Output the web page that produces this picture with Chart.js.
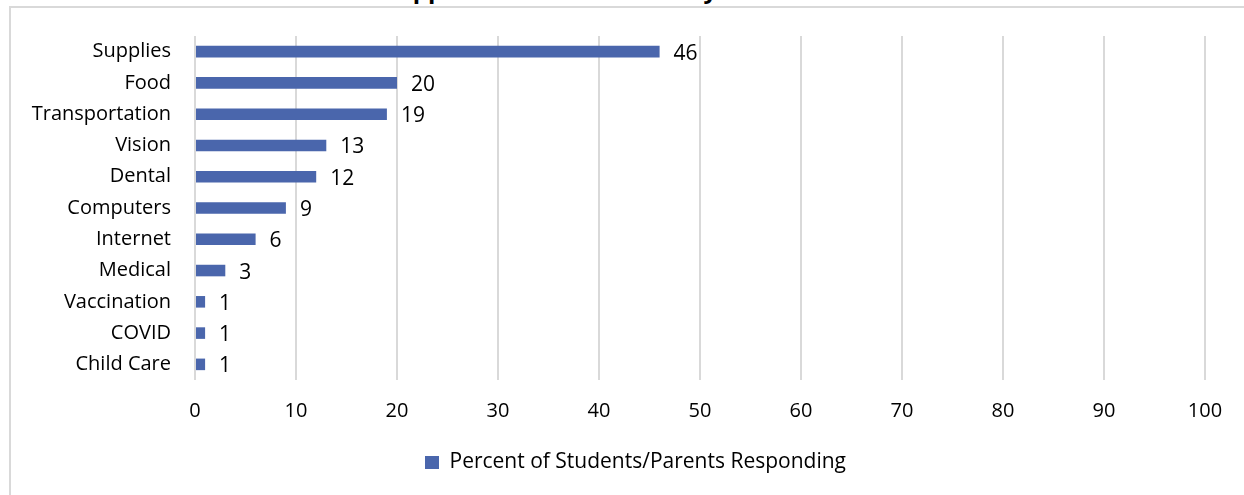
<!DOCTYPE html>
<html>
<head>
<meta charset="utf-8">
<script src="https://cdn.jsdelivr.net/npm/chart.js@4.4.1/dist/chart.umd.min.js"></script>
<style>
  html, body { margin: 0; padding: 0; background: #fff; }
  #wrap { position: relative; width: 1244px; height: 495px; overflow: hidden; background: #fff; }
  #frame { position: absolute; left: 9px; top: 6px; width: 1260px; height: 520px;
           border: 2px solid #D9D9D9; box-sizing: border-box; }
  #title { position: absolute; left: -15px; width: 1244px; top: -26px; text-align: center;
           font: bold 24px "Open Sans", sans-serif; color: #000; line-height: 30px; }
  #chart { position: absolute; left: 0; top: 0; }
</style>
</head>
<body>
<div id="wrap">
  <div id="frame"></div>
  <div id="title">Support Services Needed by Students</div>
  <canvas id="chart" width="1244" height="495"></canvas>
</div>
<script>
const categories = ['Supplies', 'Food', 'Transportation', 'Vision', 'Dental', 'Computers',
                    'Internet', 'Medical', 'Vaccination', 'COVID', 'Child Care'];
const percentResponding = [46, 20, 19, 13, 12, 9, 6, 3, 1, 1, 1];
const seriesName = 'Percent of Students/Parents Responding';
const xTicks = [0, 10, 20, 30, 40, 50, 60, 70, 80, 90, 100];

const FONT = '"Open Sans", sans-serif';
const BAR = '#4A66AC';

// value labels just past the end of each bar
const valueLabels = {
  id: 'valueLabels',
  afterDatasetsDraw(chart) {
    const ctx = chart.ctx;
    const meta = chart.getDatasetMeta(0);
    ctx.save();
    ctx.font = '21px ' + FONT;
    ctx.fillStyle = '#000';
    ctx.textAlign = 'left';
    ctx.textBaseline = 'middle';
    meta.data.forEach((bar, i) => {
      ctx.fillText(String(chart.data.datasets[0].data[i]), bar.x + 14, bar.y + 2);
    });
    ctx.restore();
  }
};

// centre the legend under the whole frame rather than the padded area
const legendShift = {
  id: 'legendShift',
  afterLayout(chart) {
    if (chart.legend) {
      chart.legend.left += 33;
      chart.legend.right += 33;
    }
  }
};

new Chart(document.getElementById('chart'), {
  type: 'bar',
  data: {
    labels: categories,
    datasets: [{
      label: seriesName,
      data: percentResponding,
      backgroundColor: BAR,
      borderWidth: 0,
      categoryPercentage: 1,
      barPercentage: 0.37
    }]
  },
  options: {
    indexAxis: 'y',
    responsive: false,
    animation: false,
    layout: { padding: { left: 0, right: 39, top: 36, bottom: 12 } },
    scales: {
      x: {
        min: 0, max: 100,
        afterBuildTicks(s) { s.ticks = xTicks.map(v => ({ value: v })); },
        grid: { color: '#D9D9D9', lineWidth: 2, drawTicks: false },
        border: { display: false },
        ticks: { font: { size: 20, family: FONT }, color: '#000', padding: 19, maxRotation: 0 },
        afterFit(s) { s.height = 64; }
      },
      y: {
        grid: { display: false },
        border: { display: false },
        ticks: { font: { size: 20, family: FONT }, color: '#000', padding: 16, autoSkip: false },
        afterFit(s) { s.width = 195; }
      }
    },
    plugins: {
      legend: {
        position: 'bottom',
        labels: { font: { size: 21, family: FONT }, color: '#000', boxWidth: 14, boxHeight: 13, padding: 8 }
      },
      tooltip: { enabled: false }
    }
  },
  plugins: [valueLabels, legendShift]
});
</script>
</body>
</html>
